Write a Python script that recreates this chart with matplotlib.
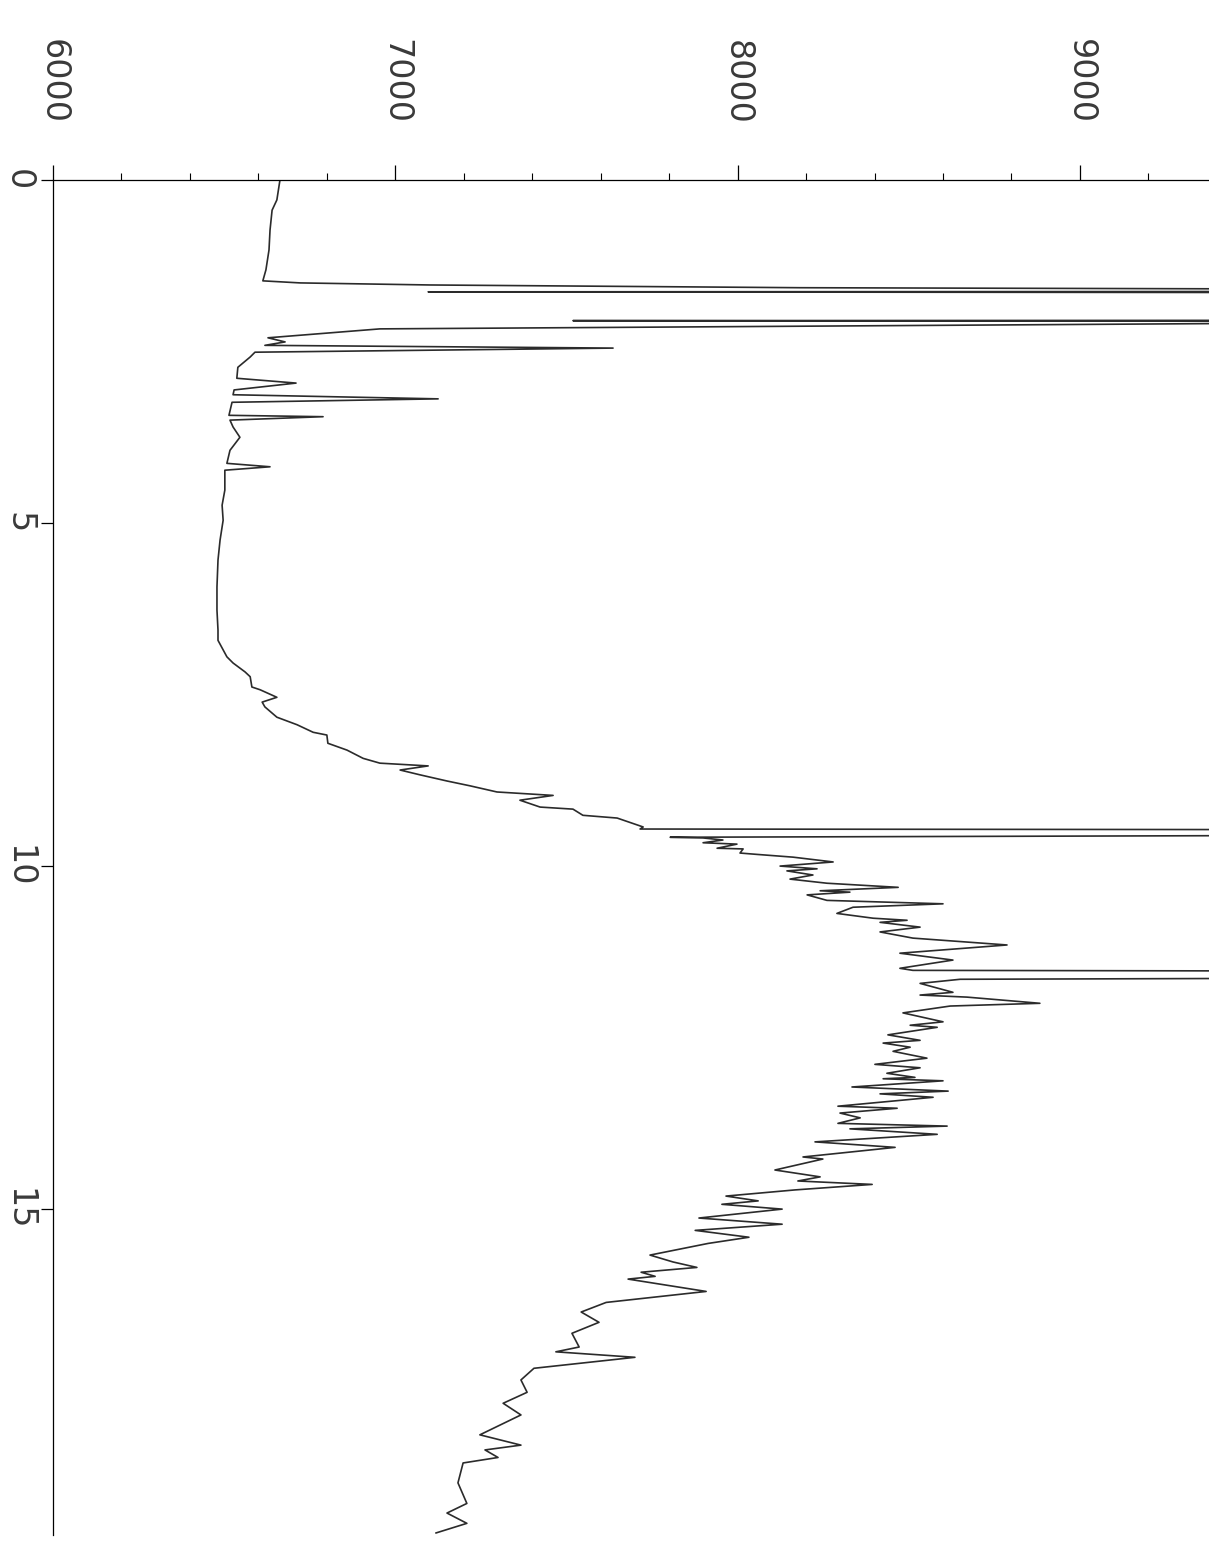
import matplotlib
matplotlib.use("Agg")
import matplotlib.pyplot as plt

# tempo (eixo vertical) e valor (eixo horizontal)
tempo = [0.00, 0.29, 0.44, 0.73, 1.02, 1.31, 1.47, 1.50, 1.53, 1.57,
         1.62, 1.63, 1.65, 2.04, 2.05, 2.07, 2.08, 2.17, 2.30, 2.36,
         2.41, 2.45, 2.51, 2.58, 2.73, 2.89, 2.96, 3.06, 3.13, 3.19,
         3.24, 3.43, 3.45, 3.50, 3.60, 3.75, 3.94, 4.13, 4.18, 4.23,
         4.52, 4.74, 4.96, 5.25, 5.54, 5.93, 6.27, 6.56, 6.71, 6.82,
         6.95, 7.04, 7.17, 7.24, 7.39, 7.43, 7.54, 7.61, 7.68, 7.83,
         7.94, 8.05, 8.09, 8.21, 8.31, 8.43, 8.50, 8.54, 8.60, 8.67,
         8.76, 8.83, 8.92, 8.97, 9.04, 9.14, 9.17, 9.26, 9.30, 9.43,
         9.46, 9.48, 9.52, 9.58, 9.59, 9.62, 9.66, 9.68, 9.74, 9.75,
         9.81, 9.83, 9.87, 9.94, 10.00, 10.04, 10.07, 10.13, 10.19, 10.25,
         10.31, 10.36, 10.38, 10.42, 10.50, 10.55, 10.60, 10.69, 10.76, 10.79,
         10.82, 10.89, 10.96, 11.05, 11.15, 11.27, 11.37, 11.49, 11.52, 11.55,
         11.60, 11.65, 11.71, 11.84, 11.88, 11.91, 12.00, 12.04, 12.14, 12.27,
         12.32, 12.35, 12.46, 12.54, 12.58, 12.64, 12.70, 12.80, 12.89, 12.94,
         13.02, 13.08, 13.10, 13.13, 13.22, 13.28, 13.32, 13.37, 13.50, 13.53,
         13.60, 13.67, 13.75, 13.79, 13.83, 13.91, 14.02, 14.10, 14.24, 14.27,
         14.43, 14.53, 14.59, 14.64, 14.72, 14.81, 14.88, 14.93, 15.00, 15.13,
         15.22, 15.31, 15.41, 15.50, 15.67, 15.77, 15.85, 15.92, 15.98, 16.02,
         16.20, 16.36, 16.50, 16.65, 16.81, 17.01, 17.08, 17.16, 17.32, 17.49,
         17.67, 17.83, 18.00, 18.29, 18.44, 18.51, 18.62, 18.70, 18.99, 19.29,
         19.43, 19.58, 19.72]

valor = [6663, 6654, 6640, 6634, 6631, 6622, 6613, 6722, 7101, 8182,
         12000, 7096, 12000, 12000, 7519, 12000, 9800, 6955, 6628, 6678,
         6619, 7636, 6590, 6576, 6540, 6537, 6710, 6529, 6526, 7125,
         6523, 6514, 6789, 6517, 6526, 6546, 6517, 6508, 6634, 6502,
         6502, 6494, 6497, 6488, 6482, 6479, 6479, 6482, 6482, 6494,
         6508, 6526, 6561, 6576, 6581, 6605, 6654, 6611, 6619, 6654,
         6713, 6760, 6800, 6803, 6859, 6906, 6955, 7096, 7014, 7072,
         7151, 7218, 7297, 7461, 7364, 7423, 7519, 7548, 7648, 7724,
         7715, 12000, 12000, 7803, 7899, 7957, 7899, 7998, 7940, 8016,
         8007, 8057, 8162, 8279, 8124, 8232, 8144, 8220, 8153, 8261,
         8469, 8241, 8328, 8203, 8261, 8600, 8337, 8290, 8396, 8495,
         8416, 8533, 8416, 8512, 8787, 8474, 8629, 8474, 8512, 12000,
         12000, 8650, 8533, 8629, 8533, 8670, 8883, 8621, 8483, 8600,
         8504, 8583, 8439, 8533, 8425, 8504, 8454, 8553, 8401, 8533,
         8436, 8518, 8425, 8600, 8334, 8615, 8416, 8571, 8293, 8466,
         8299, 8358, 8293, 8612, 8328, 8583, 8226, 8460, 8191, 8249,
         8109, 8241, 8176, 8393, 8168, 7966, 8060, 7954, 8130, 7887,
         8130, 7876, 8033, 7914, 7744, 7811, 7881, 7718, 7759, 7680,
         7908, 7616, 7543, 7595, 7516, 7537, 7469, 7700, 7405, 7367,
         7385, 7315, 7367, 7247, 7367, 7262, 7300, 7198, 7183, 7209,
         7151, 7209, 7119]

xticks = [6000, 7000, 8000, 9000]
xminor = [6200, 6400, 6600, 6800, 7200, 7400, 7600, 7800,
          8200, 8400, 8600, 8800, 9200]
yticks = [0, 5, 10, 15]

W, H = 1209, 1543
fig = plt.figure(figsize=(W / 100, H / 100), dpi=100)
ax = fig.add_axes([53 / W, 1 - 1535 / H, 1 - 53 / W, (1535 - 180) / H])

ax.plot(valor, tempo, color="#2b2b2b", lw=1.2)

ax.set_xlim(6000, 9377)
ax.set_ylim(19.75, 0)

ax.spines["right"].set_visible(False)
ax.spines["bottom"].set_visible(False)
ax.spines["top"].set_linewidth(0.9)
ax.spines["left"].set_linewidth(0.9)

ax.xaxis.tick_top()
ax.set_xticks(xticks)
ax.set_xticks(xminor, minor=True)
ax.set_xticklabels([str(v) for v in xticks], rotation=-90, fontsize=24,
                   color="#3a3a3a")
ax.set_yticks(yticks)
ax.set_yticklabels([str(v) for v in yticks], rotation=-90, fontsize=24,
                   color="#3a3a3a", va="center")

ax.tick_params(axis="x", which="major", direction="out", length=11, width=0.9, pad=29)
ax.tick_params(axis="x", which="minor", direction="out", length=5, width=0.8)
ax.tick_params(axis="y", which="major", direction="out", length=9, width=0.9, pad=4)

fig.savefig("out.png", dpi=100)
